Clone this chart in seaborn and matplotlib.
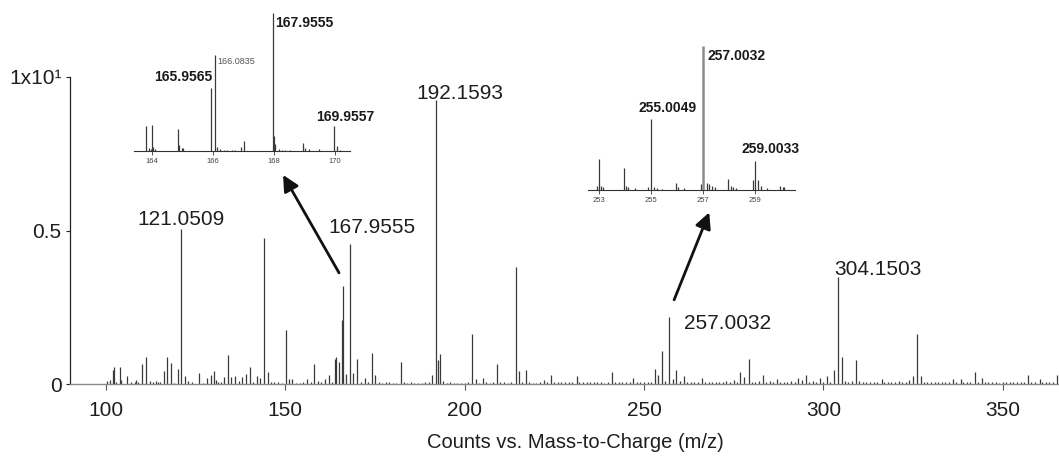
import matplotlib
matplotlib.use("Agg")
import matplotlib.pyplot as plt
import seaborn as sns

# ---------------- main spectrum (intensity in units of 10 counts) ----------------
main_mz = [
    100.2, 101.1, 101.9, 102.3, 102.8, 103.8, 104.2, 106.0, 107.0, 108.0,
    108.3, 109.0, 110.1, 111.1, 112.2, 113.1, 114.0, 114.6, 115.1, 116.1,
    117.1, 118.1, 119.0, 120.0, 121.0509, 122.0, 123.0, 124.0, 126.0, 127.0,
    128.1, 129.2, 130.2, 130.6, 131.2, 132.2, 132.9, 134.0, 135.0, 136.0,
    137.0, 138.0, 139.1, 140.1, 141.1, 142.1, 143.0, 144.1, 145.1, 146.0,
    147.0, 148.0, 149.0, 150.2, 151.1, 152.0, 153.0, 154.0, 155.0, 156.2,
    157.2, 158.1, 159.0, 160.0, 161.1, 162.2, 163.0, 163.87, 164.05, 164.9,
    165.9565, 166.0835, 167.03, 167.9555, 168.96, 169.9557, 171.0, 172.2, 173.0, 174.1,
    175.0, 176.0, 177.0, 178.0, 179.0, 180.0, 181.0, 182.2, 183.0, 184.0,
    185.0, 186.0, 187.0, 188.0, 189.0, 190.0, 191.0, 192.1593, 192.45, 193.16,
    194.1, 195.0, 196.0, 197.0, 198.0, 199.0, 200.0, 201.0, 202.2, 203.1,
    204.0, 205.1, 206.0, 207.0, 208.0, 209.1, 210.0, 211.0, 212.0, 213.0,
    214.2, 215.1, 216.0, 217.0, 218.0, 219.0, 220.0, 221.0, 222.0, 223.0,
    224.2, 225.0, 226.0, 227.0, 228.0, 229.0, 230.0, 231.2, 232.0, 233.0,
    234.0, 235.0, 236.0, 237.0, 238.0, 239.0, 240.0, 241.0, 242.0, 243.0,
    244.0, 245.0, 246.0, 247.0, 248.0, 249.0, 250.0, 251.0, 252.0, 253.0,
    254.0, 255.0049, 256.0, 257.0032, 258.0, 259.0033, 260.0, 261.2, 262.0, 263.0,
    264.0, 265.0, 266.1, 267.0, 268.0, 269.0, 270.0, 271.0, 272.0, 273.0,
    274.0, 275.0, 276.0, 276.9, 277.9, 279.2, 280.0, 281.0, 282.0, 283.3,
    284.0, 285.0, 286.0, 287.1, 288.0, 289.0, 290.0, 291.0, 292.0, 293.0,
    294.0, 295.1, 296.0, 297.0, 298.0, 299.1, 300.0, 301.0, 302.0, 303.1,
    304.1503, 305.15, 306.0, 307.0, 308.0, 309.1, 310.0, 311.0, 312.0, 313.0,
    314.0, 315.0, 316.4, 317.0, 318.0, 319.0, 320.0, 321.0, 322.0, 323.0,
    324.0, 324.9, 326.0, 327.1, 328.0, 329.0, 330.0, 331.0, 332.0, 333.0,
    334.0, 335.0, 336.2, 337.0, 338.4, 339.0, 340.0, 341.0, 342.3, 343.0,
    344.1, 345.0, 346.0, 347.0, 348.0, 349.0, 350.0, 351.0, 352.0, 353.0,
    354.0, 355.0, 356.0, 357.1, 358.0, 359.0, 360.4, 361.0, 362.0, 363.0,
    364.0, 365.1,
]
main_int = [
    0.009, 0.013, 0.047, 0.057, 0.008, 0.054, 0.012, 0.025, 0.006, 0.008,
    0.013, 0.006, 0.065, 0.087, 0.010, 0.005, 0.010, 0.006, 0.005, 0.043,
    0.087, 0.067, 0.004, 0.050, 0.505, 0.026, 0.011, 0.008, 0.035, 0.004,
    0.020, 0.030, 0.043, 0.012, 0.008, 0.008, 0.022, 0.093, 0.022, 0.026,
    0.010, 0.022, 0.032, 0.057, 0.005, 0.026, 0.020, 0.474, 0.038, 0.008,
    0.005, 0.008, 0.004, 0.175, 0.015, 0.015, 0.004, 0.003, 0.005, 0.015,
    0.005, 0.065, 0.010, 0.006, 0.015, 0.030, 0.005, 0.083, 0.087, 0.072,
    0.210, 0.318, 0.033, 0.455, 0.035, 0.080, 0.006, 0.020, 0.008, 0.102,
    0.030, 0.005, 0.004, 0.006, 0.005, 0.004, 0.004, 0.072, 0.006, 0.004,
    0.005, 0.003, 0.004, 0.003, 0.005, 0.008, 0.028, 0.925, 0.078, 0.098,
    0.010, 0.004, 0.005, 0.004, 0.003, 0.004, 0.003, 0.005, 0.162, 0.015,
    0.004, 0.020, 0.006, 0.004, 0.005, 0.066, 0.008, 0.005, 0.004, 0.005,
    0.380, 0.043, 0.006, 0.045, 0.006, 0.004, 0.004, 0.005, 0.012, 0.006,
    0.030, 0.006, 0.005, 0.005, 0.006, 0.008, 0.006, 0.025, 0.006, 0.005,
    0.006, 0.005, 0.005, 0.006, 0.005, 0.004, 0.006, 0.040, 0.006, 0.005,
    0.006, 0.005, 0.008, 0.018, 0.006, 0.005, 0.005, 0.006, 0.008, 0.048,
    0.030, 0.107, 0.010, 0.219, 0.017, 0.046, 0.010, 0.025, 0.006, 0.007,
    0.005, 0.008, 0.018, 0.006, 0.005, 0.007, 0.006, 0.008, 0.006, 0.010,
    0.007, 0.012, 0.008, 0.038, 0.022, 0.081, 0.008, 0.006, 0.010, 0.030,
    0.006, 0.010, 0.006, 0.015, 0.007, 0.008, 0.005, 0.010, 0.007, 0.018,
    0.012, 0.030, 0.008, 0.010, 0.006, 0.020, 0.008, 0.027, 0.008, 0.047,
    0.350, 0.088, 0.010, 0.008, 0.010, 0.078, 0.010, 0.008, 0.006, 0.007,
    0.008, 0.006, 0.016, 0.008, 0.007, 0.006, 0.008, 0.010, 0.006, 0.008,
    0.014, 0.025, 0.162, 0.025, 0.008, 0.007, 0.006, 0.008, 0.006, 0.007,
    0.006, 0.008, 0.015, 0.006, 0.015, 0.005, 0.006, 0.007, 0.040, 0.008,
    0.020, 0.006, 0.005, 0.006, 0.005, 0.004, 0.006, 0.005, 0.006, 0.005,
    0.006, 0.005, 0.008, 0.030, 0.008, 0.006, 0.015, 0.006, 0.005, 0.006,
    0.008, 0.030,
]
main_labels = ["121.0509", "167.9555", "192.1593", "257.0032", "304.1503"]
x_ticks = [100, 150, 200, 250, 300, 350]
y_ticks = [0, 0.5, 1.0]
y_tick_labels = ["0", "0.5", "1x10\u00b9"]

# ---------------- zoom on the m/z 164-170 cluster (relative intensity) ----------------
zoom1_mz = [
    163.81, 163.92, 163.97, 164.0, 164.05, 164.11, 164.85, 164.9, 164.98, 165.04,
    165.9565, 166.0835, 166.13, 166.24, 166.35, 166.46, 166.62, 166.73, 166.92, 167.03,
    167.9555, 167.99, 168.04, 168.15, 168.26, 168.37, 168.54, 168.95, 169.03, 169.14,
    169.49, 169.9557, 170.07, 170.15,
]
zoom1_int = [
    0.18, 0.02, 0.015, 0.19, 0.03, 0.015, 0.157, 0.046, 0.02, 0.025,
    0.457, 0.693, 0.03, 0.012, 0.01, 0.008, 0.006, 0.008, 0.03, 0.072,
    1.0, 0.11, 0.05, 0.015, 0.01, 0.008, 0.006, 0.06, 0.02, 0.012,
    0.017, 0.18, 0.034, 0.01,
]
zoom1_ticks = [164, 166, 168, 170]

# ---------------- zoom on the m/z 253-260 cluster (relative intensity) ----------------
zoom2_mz = [
    252.91, 253.0, 253.06, 253.17, 253.97, 254.04, 254.13, 254.38, 254.9, 255.0049,
    255.13, 255.22, 255.41, 255.96, 256.05, 256.27, 256.91, 257.0032, 257.14, 257.23,
    257.33, 257.46, 257.97, 258.06, 258.17, 258.26, 258.94, 259.0033, 259.13, 259.22,
    259.47, 259.96, 260.06, 260.13,
]
zoom2_int = [
    0.028, 0.215, 0.03, 0.018, 0.155, 0.028, 0.018, 0.012, 0.018, 0.493,
    0.023, 0.012, 0.01, 0.046, 0.02, 0.015, 0.042, 1.0, 0.05, 0.042,
    0.03, 0.018, 0.076, 0.025, 0.018, 0.012, 0.07, 0.2, 0.07, 0.025,
    0.015, 0.028, 0.02, 0.02,
]
zoom2_ticks = [253, 255, 257, 259]

sns.set_theme(style="white")
plt.rcParams["font.family"] = ["Liberation Sans", "DejaVu Sans"]

W, H = 1059, 458
fig = plt.figure(figsize=(W / 100, H / 100), dpi=100)


def px_box(x0, y0, x1, y1):
    """Pixel rectangle (origin top-left) -> figure-fraction box."""
    return [x0 / W, 1 - y1 / H, (x1 - x0) / W, (y1 - y0) / H]


def pt(px):
    return px * 0.72


STEM = "#3a3a3a"
TXT = "#1e1e1e"
FS = 15

# ---------------- main axes ----------------
ax = fig.add_axes(px_box(70, 77, 1059, 384))
ax.vlines(main_mz, 0, main_int, colors=STEM, lw=0.9)
ax.set_xlim(90, 365.7)
ax.set_ylim(0, 1.0)
sns.despine(ax=ax, top=True, right=True)
ax.spines["left"].set_color("#222222")
ax.spines["left"].set_linewidth(0.9)
ax.spines["bottom"].set_color("#8a8a8a")
ax.spines["bottom"].set_linewidth(1.0)
ax.set_xticks(x_ticks)
ax.set_xticklabels([str(t) for t in x_ticks])
ax.set_yticks(y_ticks)
ax.set_yticklabels(y_tick_labels)
ax.tick_params(axis="x", bottom=True, length=4, width=0.8, color="#555555",
               pad=8, labelsize=FS, labelcolor=TXT)
ax.tick_params(axis="y", left=True, length=3, width=0.8, color="#222222",
               pad=3, labelsize=FS, labelcolor=TXT)
ax.set_xlabel("Counts vs. Mass-to-Charge (m/z)", fontsize=14.5, color=TXT)
ax.xaxis.set_label_coords(0.5106, -0.16)

lookup = dict(zip(main_mz, main_int))
label_style = {
    "121.0509": dict(off=(0, 4), ha="center", va="baseline"),
    "167.9555": dict(off=(22.5, 11.5), ha="center", va="baseline"),
    "192.1593": dict(off=(23, 1), ha="center", va="baseline"),
    "257.0032": dict(off=(15, -7), ha="left", va="center"),
    "304.1503": dict(off=(-4, 2), ha="left", va="baseline"),
}
for lab in main_labels:
    m = float(lab)
    st = label_style[lab]
    ax.annotate(lab, xy=(m, lookup[m]), xytext=(pt(st["off"][0]), pt(st["off"][1])),
                textcoords="offset points", ha=st["ha"], va=st["va"],
                fontsize=FS, color=TXT, annotation_clip=False)

# arrows from the main peaks up to the zoomed panels
arrow_kw = dict(arrowstyle="-|>", color="#111111", lw=2.0, mutation_scale=24,
                shrinkA=0, shrinkB=0)
ax.annotate("", xy=(149.4, 0.681), xytext=(165.0, 0.362),
            arrowprops=arrow_kw, annotation_clip=False)
ax.annotate("", xy=(268.2, 0.559), xytext=(258.4, 0.274),
            arrowprops=arrow_kw, annotation_clip=False)


def zoom_panel(box, xlim, mz, inten, ticks, labels, hi):
    a = fig.add_axes(box)
    a.patch.set_alpha(0)
    colors = ["#8c8c8c" if m == hi else STEM for m in mz]
    widths = [1.8 if m == hi else 0.9 for m in mz]
    a.vlines(mz, 0, inten, colors=colors, lw=widths)
    a.set_xlim(*xlim)
    a.set_ylim(0, 1.0)
    sns.despine(ax=a, top=True, right=True, left=True)
    a.spines["bottom"].set_color("#333333")
    a.spines["bottom"].set_linewidth(0.8)
    a.set_yticks([])
    a.set_xticks(ticks)
    a.set_xticklabels([str(t) for t in ticks])
    a.tick_params(axis="x", bottom=True, length=3, width=0.6, color="#333333",
                  pad=2, labelsize=5.5, labelcolor="#444444")
    lk = dict(zip(mz, inten))
    for lab, off, ha, va, kw in labels:
        m = float(lab)
        a.annotate(lab, xy=(m, lk[m]), xytext=(pt(off[0]), pt(off[1])),
                   textcoords="offset points", ha=ha, va=va,
                   annotation_clip=False, **kw)
    return a


bold = dict(fontsize=10, fontweight="bold", color="#1a1a1a")
thin = dict(fontsize=6.5, color="#555555")

zoom_panel(px_box(134.3, 12.7, 350, 151), (163.43, 170.49), zoom1_mz, zoom1_int,
           zoom1_ticks,
           [("167.9555", (2.7, -10), "left", "center", bold),
            ("166.0835", (1.7, -6.5), "left", "center", thin),
            ("165.9565", (0.6, 10.5), "right", "center", bold),
            ("169.9557", (12, 9.3), "center", "center", bold)],
           hi=None)

zoom_panel(px_box(588.3, 46, 795, 190), (252.59, 260.54), zoom2_mz, zoom2_int,
           zoom2_ticks,
           [("257.0032", (4.9, -9.7), "left", "center", bold),
            ("255.0049", (16, 11.3), "center", "center", bold),
            ("259.0033", (16, 12.5), "center", "center", bold)],
           hi=257.0032)

fig.savefig("out.png", dpi=100)
